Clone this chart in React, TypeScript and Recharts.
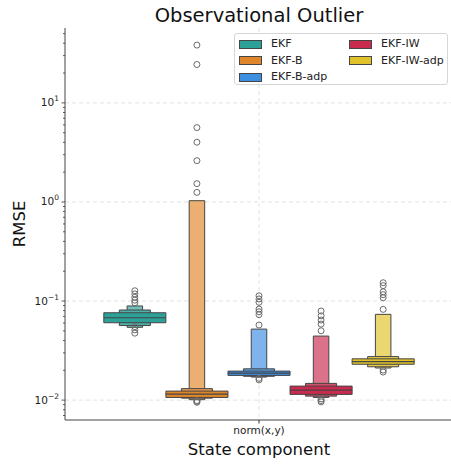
import React from 'react';
import {
  ComposedChart, XAxis, YAxis, CartesianGrid, ReferenceArea, ReferenceLine, Scatter,
} from 'recharts';

// RMSE letter-value summary per filter variant (log scale)
const methods = ['EKF', 'EKF-B', 'EKF-B-adp', 'EKF-IW', 'EKF-IW-adp'];
const colors = ['#2ca198', '#e0862a', '#3c8ee0', '#c92a4e', '#dfc22a'];
const medians = [0.0678, 0.0115, 0.01875, 0.01262, 0.0245];
// lower / upper bound of each letter value, innermost (IQR) first
const lowerBounds = [
  [0.0604, 0.0566, 0.0543],
  [0.01064, 0.01047, 0.0101],
  [0.01776, 0.0174, 0.0171],
  [0.01142, 0.01097, 0.01065],
  [0.023, 0.0217, 0.0211],
];
const upperBounds = [
  [0.0762, 0.0812, 0.0892],
  [0.01233, 0.01306, 1.03],
  [0.01963, 0.0207, 0.0521],
  [0.01385, 0.01475, 0.0443],
  [0.0261, 0.0275, 0.0734],
];
const outliers = [
  [0.127, 0.118, 0.109, 0.102, 0.096, 0.0552, 0.0512, 0.0474],
  [38.3, 24.4, 5.63, 4.01, 2.61, 1.53, 1.25, 0.0099, 0.0097, 0.0095],
  [0.113, 0.105, 0.097, 0.083, 0.078, 0.073, 0.0573, 0.0166, 0.016],
  [0.0793, 0.0709, 0.0643, 0.0585, 0.0501, 0.0103, 0.0099, 0.0096],
  [0.153, 0.143, 0.124, 0.116, 0.108, 0.0824, 0.0201, 0.0192],
];
const category = 'norm(x,y)';

const yDomain = [0.0063, 57];
const decades = [-3, -2, -1, 0, 1];
const majorTicks = decades.map((d) => Math.pow(10, d)).filter((v) => v >= yDomain[0] && v <= yDomain[1]);
const allTicks = decades
  .flatMap((d) => [1, 2, 3, 4, 5, 6, 7, 8, 9].map((m) => m * Math.pow(10, d)))
  .filter((v) => v >= yDomain[0] && v <= yDomain[1]);

const hueWidth = 0.8 / methods.length;
const centers = methods.map((_, i) => -0.4 + hueWidth * (i + 0.5));

const FONT = 'DejaVu Sans';
const EDGE = '#454545';

function lighten(hex: string, t: number) {
  const n = parseInt(hex.slice(1), 16);
  const ch = [(n >> 16) & 255, (n >> 8) & 255, n & 255].map((c) => Math.round(c + (255 - c) * t));
  return `rgb(${ch.join(',')})`;
}

function LogTick(props: any) {
  const { x, y, payload } = props;
  const v = payload.value;
  const lg = Math.log10(v);
  const e = Math.round(lg);
  const major = Math.abs(lg - e) < 1e-6;
  return (
    <g>
      <line x1={x} x2={x - (major ? 3.5 : 2)} y1={y} y2={y} stroke="#333" strokeWidth={0.8} />
      {major && (
        <text x={x - 6} y={y + 3.5} textAnchor="end" fontSize={10.5} fill="#222" fontFamily={FONT}>
          <tspan>10</tspan>
          <tspan dy={-5} fontSize={7.5}>{e < 0 ? `\u2212${-e}` : `${e}`}</tspan>
        </text>
      )}
    </g>
  );
}

function Ring(props: any) {
  const { cx, cy } = props;
  return <circle cx={cx} cy={cy} r={3} fill="none" stroke="#6b6b6b" strokeWidth={1} />;
}

export default function App() {
  return (
    <div style={{ position: 'fixed', left: 0, top: 0, width: 451, height: 464, overflow: 'hidden', background: '#fff' }}>
      <ComposedChart width={453} height={464} margin={{ top: 28, right: 0, left: 15, bottom: 14 }}>
        <CartesianGrid
          stroke="#e2e2e2"
          strokeDasharray="4 3"
          horizontalValues={majorTicks}
          verticalValues={[0]}
        />
        <XAxis
          type="number"
          dataKey="x"
          domain={[-0.5, 0.5]}
          ticks={[0]}
          tickFormatter={() => category}
          height={30}
          axisLine={{ stroke: EDGE, strokeWidth: 1 }}
          tickLine={{ stroke: '#333' }}
          tickSize={3.5}
          tickMargin={3}
          tick={{ fontSize: 10.5, fill: '#222', fontFamily: FONT }}
        />
        <XAxis xAxisId="top" orientation="top" type="number" domain={[-0.5, 0.5]} height={0}
          tick={false} tickLine={false} axisLine={{ stroke: EDGE, strokeWidth: 1 }} />
        <YAxis
          type="number"
          dataKey="y"
          scale="log"
          domain={yDomain}
          allowDataOverflow
          ticks={allTicks}
          interval={0}
          width={50}
          tickSize={0}
          tickMargin={0}
          tickLine={false}
          axisLine={{ stroke: EDGE, strokeWidth: 1 }}
          tick={<LogTick />}
        />
        {methods.map((m, i) =>
          [2, 1, 0].map((k) => (
            <ReferenceArea
              key={`${m}-${k}`}
              x1={centers[i] - (hueWidth * Math.pow(0.5, k)) / 2}
              x2={centers[i] + (hueWidth * Math.pow(0.5, k)) / 2}
              y1={lowerBounds[i][k]}
              y2={upperBounds[i][k]}
              fill={lighten(colors[i], 0.17 * k)}
              fillOpacity={1}
              stroke={EDGE}
              strokeWidth={1}
            />
          ))
        )}
        {methods.map((m, i) => (
          <ReferenceLine
            key={`med-${m}`}
            segment={[
              { x: centers[i] - hueWidth / 2, y: medians[i] },
              { x: centers[i] + hueWidth / 2, y: medians[i] },
            ]}
            stroke={EDGE}
            strokeWidth={1.2}
          />
        ))}
        {methods.map((m, i) => (
          <Scatter
            key={`out-${m}`}
            data={outliers[i].map((v) => ({ x: centers[i], y: v }))}
            dataKey="y"
            shape={<Ring />}
            isAnimationActive={false}
          />
        ))}
      </ComposedChart>

      <svg width={451} height={464} style={{ position: 'absolute', left: 0, top: 0, pointerEvents: 'none' }}>
        <text x={259} y={22} textAnchor="middle" fontSize={19.5} fill="#111" fontFamily={FONT}>Observational Outlier</text>
        <text x={259} y={455} textAnchor="middle" fontSize={16.5} fill="#111" fontFamily={FONT}>State component</text>
        <text transform="translate(25,224) rotate(-90)" textAnchor="middle" fontSize={16.5} fill="#111" fontFamily={FONT}>RMSE</text>
      </svg>

      <div style={{
        position: 'absolute', left: 234, top: 33, width: 212, height: 50,
        border: '1px solid #d6d6d6', borderRadius: 3, background: 'rgba(255,255,255,0.85)',
        fontFamily: FONT, fontSize: 11, color: '#222',
      }}>
        {methods.map((m, i) => {
          const col = i < 3 ? 0 : 1;
          const row = i < 3 ? i : i - 3;
          return (
            <div key={m} style={{ position: 'absolute', left: 4 + col * 110, top: 4 + row * 16.5, height: 12, display: 'flex', alignItems: 'center' }}>
              <div style={{ width: 21, height: 7, background: colors[i], border: `1px solid ${EDGE}` }} />
              <span style={{ marginLeft: 9, lineHeight: '12px' }}>{m}</span>
            </div>
          );
        })}
      </div>
    </div>
  );
}
